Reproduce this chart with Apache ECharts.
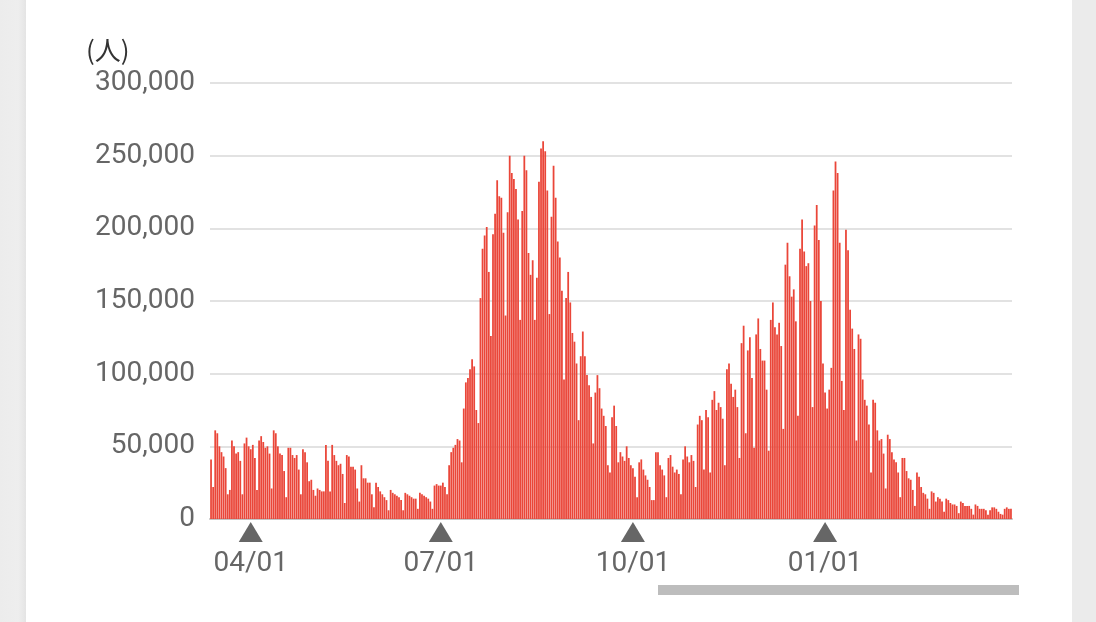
<!DOCTYPE html>
<html><head><meta charset="utf-8">
<script src="https://cdn.jsdelivr.net/npm/echarts@6/dist/echarts.min.js"></script>
<style>html,body{margin:0;padding:0;background:#fff}#c{width:1096px;height:622px}</style>
</head><body><div id="c"></div>
<script>
const startDate = '2022-03-13';
const mar2022 = [41000,22000,61000,59000,50000,46000,43000,35000,17000,20000,54000,50000,45000,46000,40000,17000,52000,56000,50000];
const apr2022 = [48000,51000,42000,20000,54000,57000,53000,49000,50000,45000,21000,61000,59000,50000,45000,44000,33000,15000,49000,49000,44000,42000,44000,34000,17000,48000,46000,39000,26000,27000];
const may2022 = [20000,16000,21000,20000,19000,19000,51000,40000,19000,51000,44000,40000,37000,38000,31000,11000,44000,43000,36000,36000,34000,21000,12000,37000,28000,28000,25000,25000,17000,8000,25000];
const jun2022 = [22000,19000,17000,15000,13000,6000,20000,18000,17000,16000,15000,13000,6000,18000,17000,16000,15000,14000,14000,7000,18000,17000,16000,15000,14000,12000,7000,23000,24000,23000];
const jul2022 = [23000,25000,22000,17000,37000,46000,49000,51000,55000,54000,39000,76000,94000,97000,103000,110000,105000,75000,66000,152000,186000,195000,201000,170000,126000,196000,210000,233000,222000,221000,197000];
const aug2022 = [140000,211000,250000,238000,234000,227000,206000,137000,212000,250000,240000,183000,168000,178000,137000,166000,232000,255000,260000,253000,226000,141000,208000,243000,221000,191000,180000,157000,96000,152000,170000];
const sep2022 = [149000,128000,122000,107000,68000,112000,129000,112000,99000,92000,84000,52000,87000,99000,90000,76000,71000,64000,37000,32000,70000,78000,64000,39000,46000,43000,40000,50000,42000,37000];
const oct2022 = [35000,29000,15000,39000,41000,34000,30000,27000,22000,13000,13000,46000,46000,37000,34000,30000,15000,42000,44000,36000,32000,34000,31000,17000,41000,50000,43000,39000,44000,40000,22000];
const nov2022 = [65000,71000,68000,34000,75000,70000,32000,82000,88000,75000,80000,77000,69000,37000,103000,107000,93000,84000,89000,77000,42000,121000,133000,59000,116000,125000,97000,49000,127000,138000];
const dec2022 = [117000,109000,109000,89000,47000,137000,149000,132000,127000,135000,119000,62000,175000,190000,167000,153000,158000,136000,71000,186000,206000,184000,174000,176000,150000,77000,202000,216000,192000,150000,107000];
const jan2023 = [87000,76000,89000,104000,226000,246000,238000,190000,95000,75000,199000,185000,144000,131000,117000,54000,127000,124000,96000,82000,78000,65000,32000,82000,80000,61000,54000,55000,45000,21000,58000];
const feb2023 = [55000,46000,41000,39000,32000,15000,42000,42000,33000,28000,27000,20000,9000,32000,29000,22000,18000,17000,14000,7000,19000,18000,12000,15000,14000,12000,5000,14000];
const mar2023 = [13000,11000,10000,10000,9000,4000,12000,11000,9000,9000,9000,7000,3000,10000,9000,7000,7000,7000,6000,3000,6000,8000,8000,7000,5000,3500,3000,7000,8000,7000,7000];
const tickLabels = ['04/01','07/01','10/01','01/01'];
const unitLabel = '(人)';

const values = [].concat(mar2022, apr2022, may2022, jun2022, jul2022, aug2022, sep2022, oct2022, nov2022, dec2022, jan2023, feb2023, mar2023);
const dates = [];
const d0 = new Date(startDate + 'T00:00:00Z');
for (let i = 0; i < values.length; i++) {
  const d = new Date(d0.getTime() + i * 86400000);
  dates.push(d.toISOString().slice(0, 10));
}
const fmt = v => v.slice(5, 7) + '/' + v.slice(8, 10);
const markerData = dates.filter(d => tickLabels.includes(fmt(d))).map(d => [d, 0]);

const chart = echarts.init(document.getElementById('c'), null, {renderer: 'canvas'});
chart.setOption({
  animation: false,
  backgroundColor: '#ffffff',
  textStyle: {fontFamily: 'Roboto, "Noto Sans CJK JP", sans-serif'},
  title: {
    text: unitLabel, left: 81, top: 32,
    textStyle: {fontSize: 26, fontWeight: 'normal', color: '#333333', fontFamily: '"Noto Sans CJK JP", Roboto, sans-serif'}
  },
  graphic: [
    {type: 'rect', shape: {x: 0, y: 0, width: 26, height: 622}, style: {fill: new echarts.graphic.LinearGradient(0, 0, 1, 0, [{offset: 0, color: '#ececec'}, {offset: 0.7, color: '#eeeeee'}, {offset: 1, color: '#e4e4e4'}])}, silent: true},
    {type: 'rect', shape: {x: 1072, y: 0, width: 24, height: 622}, style: {fill: '#ebebeb'}, silent: true},
    {type: 'rect', shape: {x: 658, y: 585, width: 361, height: 10}, style: {fill: '#bdbdbd'}, silent: true}
  ],
  grid: {left: 210, right: 84, top: 83, bottom: 103, containLabel: false},
  xAxis: {
    type: 'category',
    data: dates,
    boundaryGap: true,
    axisLine: {show: true, lineStyle: {color: '#c4c4c4', width: 2}},
    axisTick: {show: false},
    splitLine: {show: false},
    axisLabel: {
      interval: (idx, val) => tickLabels.includes(fmt(val)),
      formatter: v => fmt(v),
      color: '#666666', fontSize: 28, margin: 31, fontFamily: 'Roboto'
    }
  },
  yAxis: {
    type: 'value', min: 0, max: 300000, interval: 50000,
    axisLine: {show: false}, axisTick: {show: false},
    splitLine: {show: true, lineStyle: {color: '#e2e2e2', width: 2}},
    axisLabel: {
      formatter: v => v.toLocaleString('en-US'),
      color: '#666666', fontSize: 28, margin: 15, fontFamily: 'Roboto'
    }
  },
  series: [
    {
      type: 'bar', data: values,
      barCategoryGap: '15%',
      itemStyle: {color: '#ea4639'},
      z: 2
    },
    {
      type: 'scatter', data: markerData,
      symbol: 'triangle', symbolSize: [24, 20], symbolOffset: [0, 13],
      clip: false, silent: true,
      itemStyle: {color: '#666666', opacity: 1},
      z: 5
    }
  ]
});
</script>
</body></html>
